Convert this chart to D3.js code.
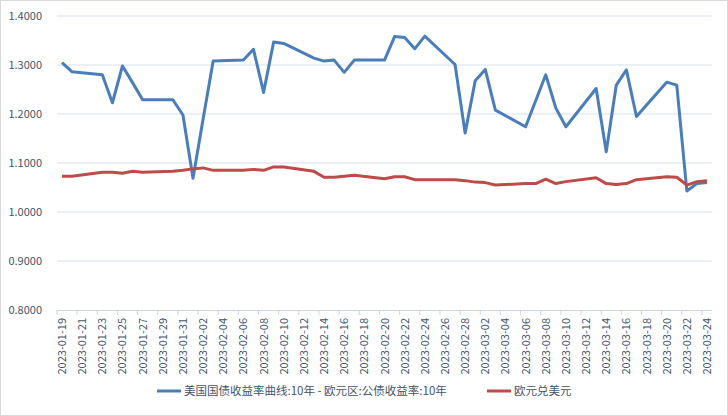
<!DOCTYPE html>
<html><head><meta charset="utf-8">
<script src="https://cdn.jsdelivr.net/npm/d3@7"></script>
<style>body{margin:0;background:#fff}svg{display:block;font-family:"Noto Sans CJK SC","Liberation Sans",sans-serif}</style>
</head><body><svg id="c" width="728" height="416"></svg>
<script>
// day offsets from 2023-01-19
var days = [0,1,4,5,6,7,8,11,12,13,14,15,18,19,20,21,22,25,26,27,28,29,32,33,34,35,36,39,40,41,42,43,46,47,48,49,50,53,54,55,56,57,60,61,62,63,64];
var spread = [1.305,1.286,1.280,1.223,1.298,1.264,1.229,1.229,1.198,1.069,1.190,1.308,1.310,1.332,1.244,1.347,1.344,1.314,1.308,1.310,1.285,1.310,1.310,1.358,1.356,1.333,1.359,1.301,1.161,1.268,1.291,1.208,1.174,1.227,1.280,1.212,1.174,1.252,1.123,1.259,1.290,1.195,1.265,1.259,1.043,1.058,1.060];
var eurusd = [1.073,1.073,1.081,1.081,1.079,1.083,1.081,1.083,1.085,1.088,1.090,1.085,1.085,1.087,1.085,1.092,1.092,1.083,1.071,1.071,1.073,1.075,1.068,1.072,1.072,1.066,1.066,1.066,1.064,1.061,1.060,1.055,1.058,1.058,1.067,1.058,1.062,1.070,1.058,1.056,1.058,1.066,1.072,1.071,1.055,1.062,1.064];
var yTicks = [0.8,0.9,1.0,1.1,1.2,1.3,1.4];
var seriesNames = ["美国国债收益率曲线:10年 - 欧元区:公债收益率:10年","欧元兑美元"];
var colors = ["#4a7ebb","#be4b48"];

var start = new Date(2023,0,19);
var dates = days.map(function(d){ return d3.timeDay.offset(start, d); });
var svg = d3.select("#c");
var x = d3.scaleLinear().domain([0,64]).range([62,707]);
var y = d3.scaleLinear().domain([0.8,1.4]).range([310,16]);
var fmt = d3.timeFormat("%Y-%m-%d");
var txt = "#44546a";

svg.append("rect").attr("x",0.5).attr("y",0.5).attr("width",727).attr("height",415)
  .attr("fill","none").attr("stroke","#d9d9d9");

svg.selectAll(".grid").data(yTicks.slice(1)).enter().append("line")
  .attr("x1",57).attr("x2",712).attr("y1",function(d){return y(d);}).attr("y2",function(d){return y(d);})
  .attr("stroke","#d6e1ee");
svg.selectAll(".yl").data(yTicks).enter().append("text")
  .attr("x",42).attr("y",function(d){return y(d)+4;}).attr("text-anchor","end")
  .attr("font-size",11).attr("fill",txt).text(function(d){return d.toFixed(4);});

// x axis
svg.append("line").attr("x1",57).attr("x2",712).attr("y1",310.5).attr("y2",310.5).attr("stroke","#c9d6e6");
var tickDays = d3.range(0,66,2);
svg.selectAll(".xt").data(tickDays).enter().append("line")
  .attr("x1",function(d){return x(d-0.5);}).attr("x2",function(d){return x(d-0.5);})
  .attr("y1",310).attr("y2",315).attr("stroke","#c9d6e6");
svg.selectAll(".xl").data(d3.range(0,65,2)).enter().append("text")
  .attr("transform",function(d){return "translate("+(x(d)+4)+",318) rotate(-90)";})
  .attr("text-anchor","end").attr("font-size",11).attr("fill",txt)
  .text(function(d){return fmt(d3.timeDay.offset(start,d));});

[spread,eurusd].forEach(function(vals,i){
  var line = d3.line().x(function(d,j){return x(days[j]);}).y(function(d){return y(d);});
  svg.append("path").datum(vals).attr("d",line).attr("fill","none")
    .attr("stroke",colors[i]).attr("stroke-width",3).attr("stroke-linejoin","round");
});

// legend
var lg = [{x:157,t:seriesNames[0]},{x:487,t:seriesNames[1]}];
lg.forEach(function(l,i){
  svg.append("line").attr("x1",l.x).attr("x2",l.x+24).attr("y1",391).attr("y2",391)
    .attr("stroke",colors[i]).attr("stroke-width",3);
  svg.append("text").attr("x",l.x+27).attr("y",395).attr("font-size",11.5).attr("fill",txt).text(l.t);
});
</script></body></html>
